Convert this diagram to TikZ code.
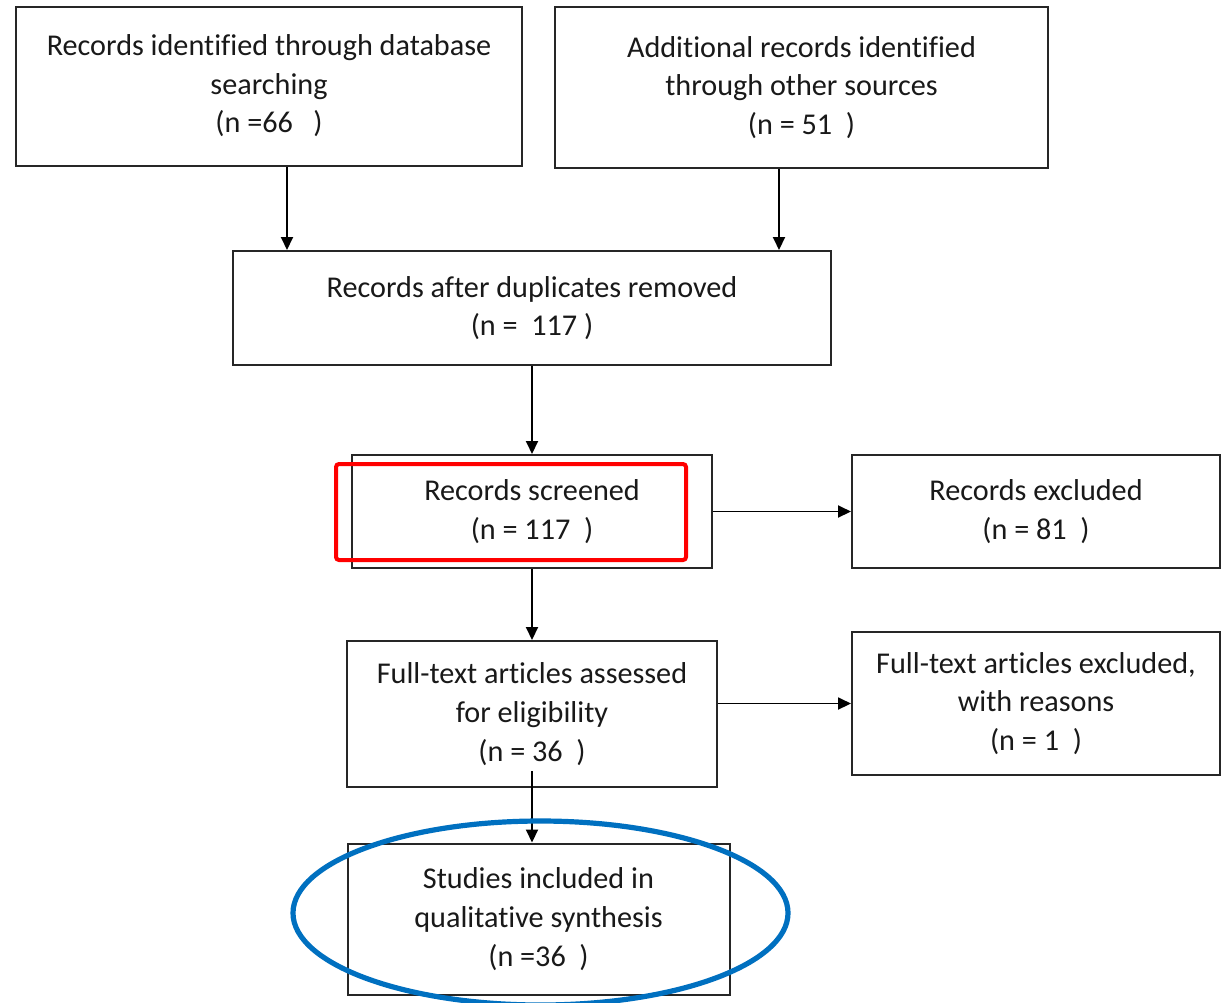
\documentclass[tikz,border=0pt]{standalone}
\usepackage{fontspec}
\setmainfont{Carlito}[Ligatures=CommonOff]
\usetikzlibrary{arrows.meta,shapes.geometric}
\definecolor{markblue}{HTML}{0070C0}
\definecolor{markred}{HTML}{FF0000}
\tikzset{
  box/.style={draw=black!85, line width=1pt, fill=white, align=center, inner sep=0pt,
    font=\fontsize{15.1}{19.3}\selectfont, text=black!90},
  arr/.style={draw=black, line width=0.95pt, -{Triangle[length=6.5pt,width=6pt]}},
  redmark/.style={draw=markred, line width=2pt, rounded corners=1.5pt, inner sep=0pt},
  bluemark/.style={draw=markblue, line width=2.6pt, ellipse, inner sep=0pt}
}
\begin{document}
\begin{tikzpicture}[x=0.5pt,y=-0.5pt]
\useasboundingbox[fill=white] (0,0) rectangle (1229,1002);
% boxes
\node[box, minimum width=253pt, minimum height=79.5pt] (A) at (269,86.5)
  {Records identified through database\\ searching\\ (n =66\ \ \ )\vphantom{g}};
\node[box, minimum width=246.5pt, minimum height=80.5pt] (B) at (801.5,87.5)
  {Additional records identified\\ through other sources\\ (n = 51\ \ )};
\node[box, minimum width=299pt, minimum height=57pt] (C) at (532,308)
  {Records after duplicates removed\\ (n =\ \ 117 )};
\node[box, minimum width=180pt, minimum height=56.5pt] (D) at (532,511.5)
  {Records screened\\ (n = 117\ \ )};
\node[box, minimum width=184pt, minimum height=56.5pt] (E) at (1036,511.5)
  {Records excluded\\ (n = 81\ \ )};
\node[box, minimum width=185pt, minimum height=73pt] (F) at (532,714)
  {Full-text articles assessed\\ for eligibility\\ (n = 36\ \ )};
\node[box, minimum width=184pt, minimum height=71.5pt] (G) at (1036,703.5)
  {Full-text articles excluded,\\ with reasons\\ (n = 1\ \ )};
\node[box, minimum width=191pt, minimum height=75.5pt] (H) at (538.5,919)
  {Studies included in\\ qualitative synthesis\\ (n =36\ \ )};
% connectors
\draw[arr] ([xshift=9pt]A.south) -- ([xshift=9pt]A.south |- C.north);
\draw[arr] ([xshift=-11.25pt]B.south) -- ([xshift=-11.25pt]B.south |- C.north);
\draw[arr] (C.south) -- (D.north);
\draw[arr] (D.east) -- (E.west);
\draw[arr] (D.south) -- (F.north);
\draw[arr] (F.east |- G.west) -- (G.west);
\coordinate (Fout) at ([yshift=8.5pt]F.south);
\draw[arr] (Fout) -- (Fout |- H.north);
% highlight marks
\node[redmark, minimum width=175pt, minimum height=48pt] (red) at (511,512) {};
\node[bluemark, minimum width=247.5pt, minimum height=92pt] (blue) at (540.5,913) {};
\end{tikzpicture}
\end{document}
